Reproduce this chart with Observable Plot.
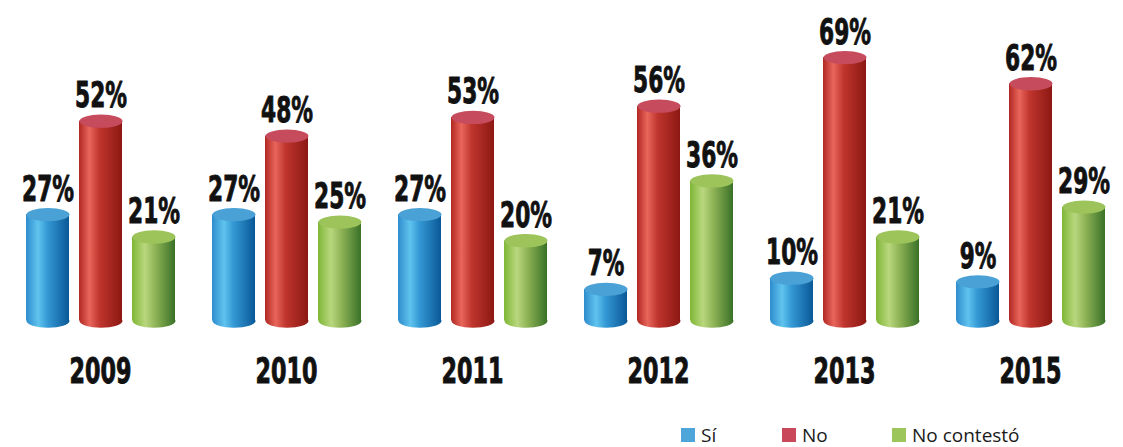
<!DOCTYPE html>
<html><head><meta charset="utf-8">
<script src="https://cdn.jsdelivr.net/npm/d3@7"></script>
<script src="https://cdn.jsdelivr.net/npm/@observablehq/plot@0.6"></script>
<style>
html,body{margin:0;padding:0;background:#fff;}
#wrap{position:relative;width:1123px;height:447px;overflow:hidden;}
#chart svg{display:block;overflow:visible;}
#legend{position:relative;height:32px;font-family:"Open Sans",Lato,sans-serif;font-size:19px;color:#1a1a1a;}
.item{position:absolute;top:13px;height:14px;display:flex;align-items:center;white-space:nowrap;line-height:14px;}
.sw{width:14px;height:14px;margin-right:6px;display:inline-block;}
.lb{line-height:14px;height:14px;display:inline-block;}
</style></head><body>
<div id="wrap"><div id="chart"></div><div id="legend"></div></div>
<script>
// ---- data ----
const years = ["2009","2010","2011","2012","2013","2015"];
const series = ["Sí","No","No contestó"];
const si = [27,27,27,7,10,9];
const no = [52,48,53,56,69,62];
const noContesto = [21,25,20,36,21,29];
const seriesValues = [si, no, noContesto];
const legendColors = ["#4ea5da","#c9495b","#9cc65a"];
const capColors = ["#4aa1d6","#c64b5d","#9cc45a"];
const gradIds = ["gBlue","gRed","gGreen"];
const gradStops = [
  [["0%","#2f8ccd"],["28%","#5fc4ee"],["50%","#3398d4"],["100%","#0a5896"]],
  [["0%","#b02823"],["24%","#e9665b"],["48%","#bf352d"],["100%","#8c1813"]],
  [["0%","#7fb737"],["30%","#b9d77e"],["55%","#8db254"],["100%","#397128"]]
];

const rows = [];
years.forEach((y, i) => series.forEach((s, j) => rows.push({year: y, serie: s, value: seriesValues[j][i], k: j})));

// ellipse symbol for cylinder caps
const K = 0.5523;
const ellipse = ratio => ({draw(ctx, size) {
  const rx = Math.sqrt(size / Math.PI), ry = rx * ratio;
  ctx.moveTo(rx, 0);
  ctx.bezierCurveTo(rx, ry * K, rx * K, ry, 0, ry);
  ctx.bezierCurveTo(-rx * K, ry, -rx, ry * K, -rx, 0);
  ctx.bezierCurveTo(-rx, -ry * K, -rx * K, -ry, 0, -ry);
  ctx.bezierCurveTo(rx * K, -ry, rx, -ry * K, rx, 0);
  ctx.closePath();
}});
const cap = ellipse(0.31);

const font = '"Liberation Sans Narrow","DejaVu Sans Condensed",sans-serif';
const marks = [];
series.forEach((s, j) => {
  const d = rows.filter(r => r.serie === s);
  marks.push(Plot.dot(d, {fx: "year", x: "serie", y: () => 0, r: 21.5, symbol: cap, fill: `url(#${gradIds[j]})`, stroke: "none", dy: 5.5}));
  marks.push(Plot.barY(d, {fx: "year", x: "serie", y: "value", fill: `url(#${gradIds[j]})`, insetBottom: -5.5}));
  marks.push(Plot.dot(d, {fx: "year", x: "serie", y: "value", r: 21.5, symbol: cap, fill: capColors[j], stroke: "none"}));
});
marks.push(Plot.text(rows, {fx: "year", x: "serie", y: "value", text: d => d.value + "%", lineAnchor: "bottom", dy: -14,
  fontSize: 35, fontWeight: "bold", fontFamily: font, fill: "#111", stroke: "#111", strokeWidth: 0.9, ariaLabel: "values"}));
marks.push(Plot.axisFx({anchor: "bottom", tickSize: 0, tickPadding: 43, fontSize: 35, fontWeight: "bold", fontFamily: font, label: null}));

const svg = Plot.plot({
  width: 1123, height: 415,
  marginLeft: 0, marginRight: 0, marginTop: 16, marginBottom: 100,
  fx: {domain: years, range: [5, 1125.2], padding: 0, label: null},
  x: {domain: series, paddingInner: 0.196, paddingOuter: 0.343, axis: null},
  y: {domain: [0, 80], axis: null},
  style: {background: "#fff", color: "#111", fontFamily: font},
  marks
});

// gradient defs
const defs = d3.select(svg).insert("defs", ":first-child");
gradIds.forEach((id, j) => {
  const g = defs.append("linearGradient").attr("id", id).attr("x1", "0").attr("x2", "1").attr("y1", "0").attr("y2", "0");
  gradStops[j].forEach(([o, c]) => g.append("stop").attr("offset", o).attr("stop-color", c));
});

// condense the heavy labels
d3.select(svg).selectAll("text").each(function() {
  const t = this.textContent.trim();
  let len = null;
  if (/^\d+%$/.test(t)) len = (t.length - 1) * 15.5 + 21;
  else if (/^\d{4}$/.test(t)) len = 62;
  if (len) d3.select(this).attr("textLength", len).attr("lengthAdjust", "spacingAndGlyphs");
  if (/^\d{4}$/.test(t)) d3.select(this).attr("stroke", "#111").attr("stroke-width", 0.9).attr("paint-order", "stroke").attr("fill", "#111");
});

document.getElementById("chart").appendChild(svg);

// legend
const lefts = [681, 782, 892];
const legend = d3.select("#legend");
series.forEach((s, j) => {
  const it = legend.append("div").attr("class", "item").style("left", lefts[j] + "px");
  it.append("span").attr("class", "sw").style("background", legendColors[j]);
  it.append("span").attr("class", "lb").text(s);
});
</script>
</body></html>
